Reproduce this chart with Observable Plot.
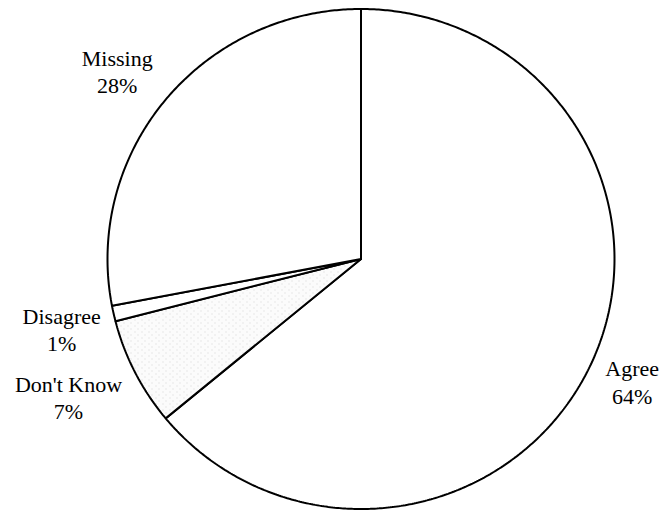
<!DOCTYPE html>
<html><head><meta charset="utf-8">
<script src="https://cdn.jsdelivr.net/npm/d3@7"></script>
<script src="https://cdn.jsdelivr.net/npm/@observablehq/plot@0.6"></script>
<style>html,body{margin:0;padding:0;background:#fff}</style>
</head><body><div id="chart"></div>
<script>
// Data
const categories = ["Agree", "Don't Know", "Disagree", "Missing"];
const percents = [64, 7, 1, 28];
const valueLabels = ["64%", "7%", "1%", "28%"];

// Layout (label nudges in px from arc midpoint)
const labelNudge = {
  "Agree": [41.8, 15.9],
  "Don't Know": [-66.6, 23.9],
  "Disagree": [-51.9, 15.3],
  "Missing": [-48.5, -29.2]
};

const arcs = d3.pie().sort(null).value(d => d)(percents);
const slices = arcs.map((a, i) => {
  const pts = [{x: 0, y: 0}];
  const n = Math.max(2, Math.ceil((a.endAngle - a.startAngle) / (Math.PI / 360)));
  for (let k = 0; k <= n; k++) {
    const t = a.startAngle + (a.endAngle - a.startAngle) * k / n;
    pts.push({x: Math.sin(t), y: Math.cos(t)});
  }
  pts.push({x: 0, y: 0});
  return {name: categories[i], pts, mid: (a.startAngle + a.endAngle) / 2};
});

const marks = [];
for (const s of slices) {
  marks.push(Plot.line(s.pts, {
    x: "x", y: "y",
    fill: s.name === "Don't Know" ? "url(#stipple)" : "white",
    stroke: "black", strokeWidth: 2, strokeLinejoin: "miter"
  }));
}
for (const s of slices) {
  const i = categories.indexOf(s.name);
  const [dx, dy] = labelNudge[s.name];
  marks.push(Plot.text([{x: Math.sin(s.mid), y: Math.cos(s.mid), t: categories[i] + "\n" + valueLabels[i]}], {
    x: "x", y: "y", text: "t", dx, dy,
    fontFamily: "Liberation Serif", fontSize: 22, lineHeight: 1.23,
    fill: "black", textAnchor: "middle"
  }));
}

const svg = Plot.plot({
  width: 660, height: 510, margin: 0,
  x: {domain: [-1, 1], range: [107, 614], axis: null},
  y: {domain: [-1, 1], range: [508.5, 8.5], axis: null},
  style: {background: "white"},
  marks
});

const ns = "http://www.w3.org/2000/svg";
const defs = document.createElementNS(ns, "defs");
const pat = document.createElementNS(ns, "pattern");
pat.setAttribute("id", "stipple");
pat.setAttribute("width", "7");
pat.setAttribute("height", "6");
pat.setAttribute("patternUnits", "userSpaceOnUse");
const bg = document.createElementNS(ns, "rect");
bg.setAttribute("width", "7"); bg.setAttribute("height", "6"); bg.setAttribute("fill", "#fbfbfb");
pat.appendChild(bg);
for (const [px, py] of [[1, 1], [4, 4]]) {
  const r = document.createElementNS(ns, "rect");
  r.setAttribute("x", px); r.setAttribute("y", py);
  r.setAttribute("width", "1"); r.setAttribute("height", "1");
  r.setAttribute("fill", "#d2d2d2");
  pat.appendChild(r);
}
defs.appendChild(pat);
svg.insertBefore(defs, svg.firstChild);
document.getElementById("chart").appendChild(svg);
</script>
</body></html>
